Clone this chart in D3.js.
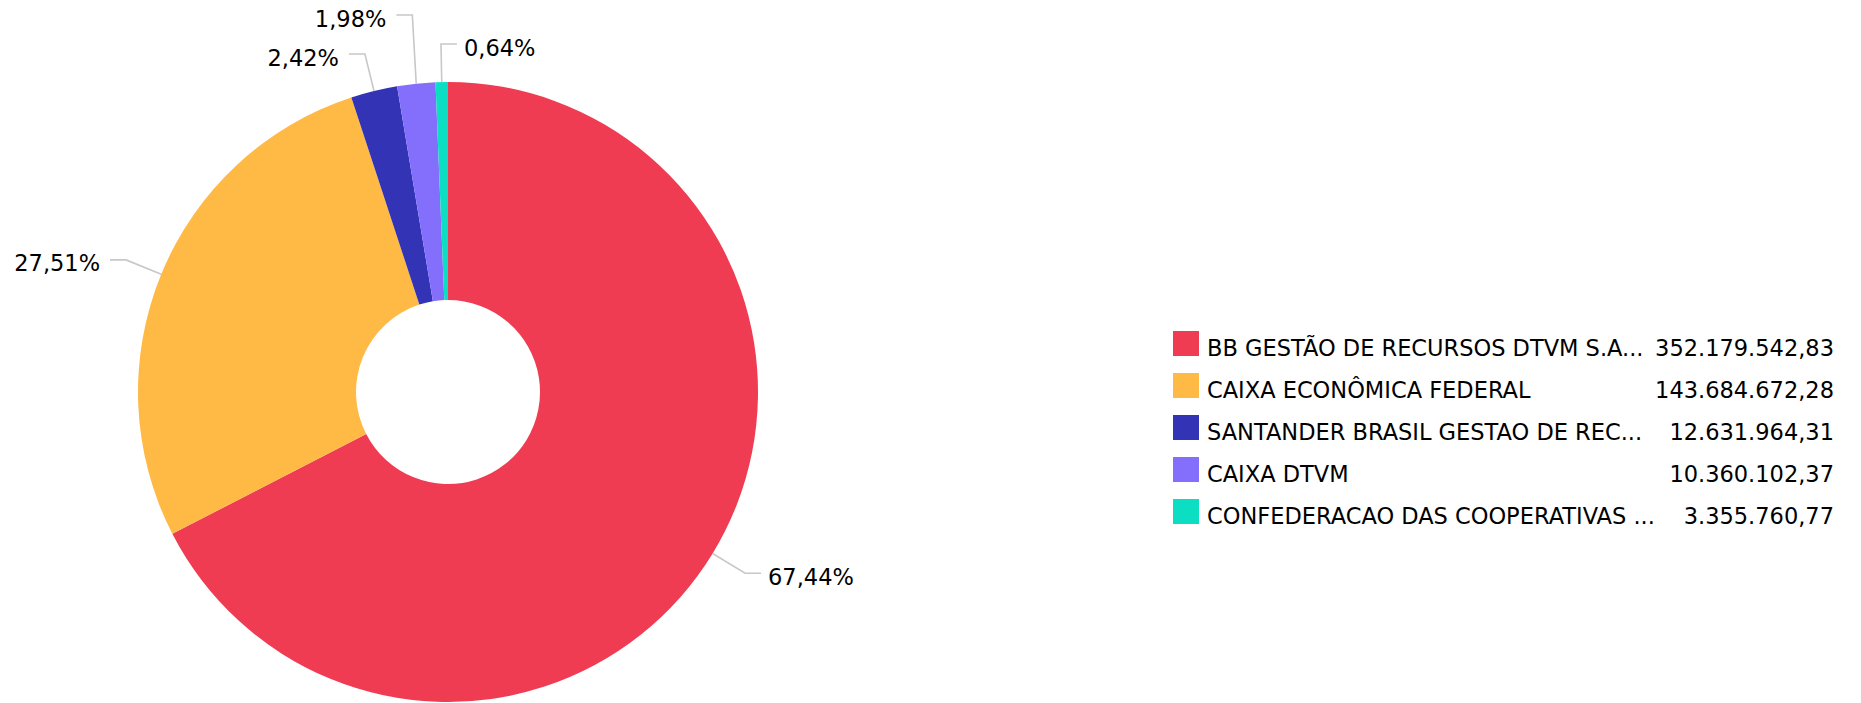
<!DOCTYPE html>
<html><head><meta charset="utf-8">
<script src="https://cdn.jsdelivr.net/npm/d3@7/dist/d3.min.js"></script>
<style>
html,body{margin:0;padding:0;background:#fff;}
svg{display:block;font-family:"DejaVu Sans",Verdana,sans-serif;}
</style>
</head><body>
<svg id="chart" width="1861" height="703"></svg>
<script>
const categories = [
  "BB GESTÃO DE RECURSOS DTVM S.A...",
  "CAIXA ECONÔMICA FEDERAL",
  "SANTANDER BRASIL GESTAO DE REC...",
  "CAIXA DTVM",
  "CONFEDERACAO DAS COOPERATIVAS ..."
];
const values = [352179542.83, 143684672.28, 12631964.31, 10360102.37, 3355760.77];
const colors = ["#ef3c53", "#ffb945", "#3333b5", "#836ffb", "#0cdec4"];

const W = 1861, Hh = 703;
const cx = 448, cy = 392, R = 310, R0 = 92;
const fontSize = 22.5;

const loc = d3.formatLocale({decimal: ",", thousands: ".", grouping: [3], currency: ["R$", ""]});
const fmtVal = loc.format(",.2f");
const fmtPct = loc.format(".2%");

const svg = d3.select("#chart");
const total = d3.sum(values);
const pie = d3.pie().sort(null).value(d => d).startAngle(0).endAngle(2 * Math.PI);
const arcs = pie(values);
const arc = d3.arc().innerRadius(R0).outerRadius(R);
const color = d3.scaleOrdinal().domain(categories).range(colors);

const g = svg.append("g").attr("transform", `translate(${cx},${cy})`);
g.selectAll("path.slice").data(arcs).join("path")
  .attr("class", "slice")
  .attr("d", arc)
  .attr("fill", (d, i) => color(categories[i]));

// ---- label layout (radial tick + horizontal tail, overlap avoidance) ----
const len1 = 38, len2 = 16, minGap = 39;
const topBound = -cy + 12, botBound = Hh - cy - 12;
const items = arcs.map((a, i) => {
  const m = (a.startAngle + a.endAngle) / 2;
  const s = Math.sin(m), c = -Math.cos(m);
  return {i, p0: [R * s, R * c], p1: [(R + len1) * s, (R + len1) * c],
          side: s >= 0 ? 1 : -1, y: (R + len1) * c};
});
// left side: bottom to top, push up; flip to right when out of room
let prev = Infinity;
items.filter(d => d.side < 0).sort((a, b) => b.y - a.y).forEach(d => {
  let y = Math.min(d.y, prev - minGap);
  if (y < topBound) { d.side = 1; return; }
  d.y = y; prev = y;
});
// right side: top to bottom, push down
prev = -Infinity;
items.filter(d => d.side > 0).sort((a, b) => a.y - b.y).forEach(d => {
  d.y = Math.max(d.y, prev + minGap);
  if (d.y > botBound) d.y = botBound;
  prev = d.y;
});

const lbl = g.selectAll("g.lbl").data(items).join("g").attr("class", "lbl");
lbl.append("polyline")
  .attr("fill", "none")
  .attr("stroke", "#c8c8c8")
  .attr("stroke-width", 1.6)
  .attr("points", d => [d.p0, [d.p1[0], d.y], [d.p1[0] + d.side * len2, d.y]].map(p => p.join(",")).join(" "));
lbl.append("text")
  .attr("x", d => d.p1[0] + d.side * (len2 + (d.side > 0 ? 7 : 10)))
  .attr("y", d => d.y + 11.5)
  .attr("text-anchor", d => d.side > 0 ? "start" : "end")
  .attr("font-size", fontSize)
  .attr("fill", "#000")
  .text(d => fmtPct(values[d.i] / total));

// ---- legend ----
const lx = 1173, ly = 331, rowH = 42, valX = 1834;
const leg = svg.append("g").selectAll("g").data(categories).join("g")
  .attr("transform", (d, i) => `translate(0,${ly + i * rowH})`);
leg.append("rect").attr("x", lx).attr("y", 0).attr("width", 26).attr("height", 25)
  .attr("fill", d => color(d));
leg.append("text").attr("x", lx + 34).attr("y", 25)
  .attr("font-size", fontSize).attr("fill", "#000").text(d => d);
leg.append("text").attr("x", valX).attr("y", 25).attr("text-anchor", "end")
  .attr("font-size", fontSize).attr("fill", "#000").text((d, i) => fmtVal(values[i]));
</script>
</body></html>
